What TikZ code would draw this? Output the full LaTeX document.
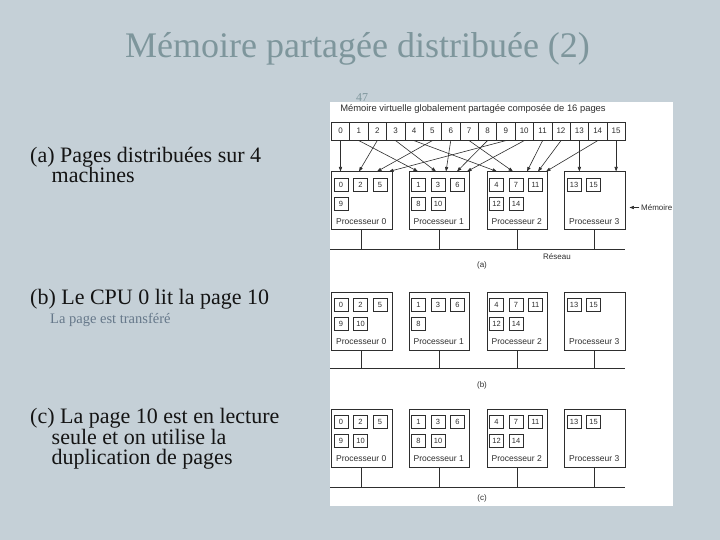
\documentclass[tikz,border=0pt]{standalone}
\usepackage{fontspec}
\setmainfont{Liberation Serif}
\newfontfamily\diagfont{Liberation Sans}
\usetikzlibrary{arrows.meta,calc}
\definecolor{bg}{HTML}{C5D0D7}
\definecolor{titlec}{HTML}{7E969C}
\definecolor{ink}{HTML}{2E2E2E}
\definecolor{bodyc}{HTML}{141414}
\definecolor{subc}{HTML}{66788A}
\newcommand\mkproc[6]{%
  \node[proc] (#1) at (#2,#3) {};
  \node[plabel] (#1-lab) at (#2+30.25,#3+50) {Processeur #4};
  \foreach \v [count=\k from 0] in {#5}
    \node[pg] (#1-u\k) at (#2+10+19.5*\k,#3+13) {\v};
  \def\rowtwo{#6}%
  \ifx\rowtwo\empty\else
  \foreach \v [count=\k from 0] in {#6}
    \node[pg] (#1-d\k) at (#2+10+19.5*\k,#3+32) {\v};
  \fi}
\begin{document}
\begin{tikzpicture}[x=1pt,y=-1pt,
  cell/.style={draw=ink, line width=0.6pt, minimum width=18.375pt, minimum height=18.3pt,
    inner sep=0pt, anchor=north west, font=\diagfont\fontsize{8}{9}\selectfont, text=ink},
  proc/.style={draw=ink, line width=0.6pt, minimum width=60.5pt, minimum height=58pt,
    inner sep=0pt, anchor=north west},
  pg/.style={draw=ink, line width=0.65pt, minimum width=14pt, minimum height=13pt,
    inner sep=0pt, font=\diagfont\fontsize{7.5}{8}\selectfont, text=ink},
  plabel/.style={font=\diagfont\fontsize{8.5}{9}\selectfont, text=ink, inner sep=0pt},
  small/.style={font=\diagfont\fontsize{8}{9}\selectfont, text=ink, inner sep=0pt},
  net/.style={draw=ink, line width=0.7pt},
  arr/.style={draw=ink, line width=0.6pt, -{Triangle[length=4.5pt,width=3.2pt]}},
  body/.style={font=\fontsize{22}{24}\selectfont, text=bodyc, anchor=base west, inner sep=0pt}
]
% background
\fill[bg] (0,0) rectangle (720,540);
% title
\node[font=\fontsize{36}{40}\selectfont, text=titlec, anchor=base, inner sep=0pt] (title) at (357.5,58) {Mémoire partagée distribuée (2)};
\node[font=\fontsize{12}{13}\selectfont, text=titlec, anchor=base, inner sep=0pt] (pnum) at (362,102) {47};
% left texts
\node[body] (ta1) at (30,162.5) {(a) Pages distribuées sur 4};
\node[body] (ta2) at (51.5,183) {machines};
\node[body] (tb1) at (30,304.5) {(b) Le CPU 0 lit la page 10};
\node[font=\fontsize{14.5}{16}\selectfont, text=subc, anchor=base west, inner sep=0pt] (tb2) at (50,323.5) {La page est transféré};
\node[body] (tc1) at (30,423) {(c) La page 10 est en lecture};
\node[body] (tc2) at (51.5,444) {seule et on utilise la};
\node[body] (tc3) at (51.5,464) {duplication de pages};
% white panel
\fill[white] (330,102.3) rectangle (673,506);
% header
\node[small, font=\diagfont\fontsize{9.4}{10}\selectfont, anchor=base] (hdr) at (473,112) {Mémoire virtuelle globalement partagée composée de 16 pages};
\foreach \i in {0,...,15}
  \node[cell] (c\i) at (331+18.375*\i,121.7) {\i};
% ---------- (a)
\mkproc{pa0}{331}{171.5}{0}{0,2,5}{9}
\mkproc{pa1}{408.5}{171.5}{1}{1,3,6}{8,10}
\mkproc{pa2}{486.5}{171.5}{2}{4,7,11}{12,14}
\mkproc{pa3}{564}{171.5}{3}{13,15}{}
\coordinate (naL) at (330,249);
\coordinate (naR) at (625,249);
\draw[net] (naL) -- (naR);
\foreach \p in {0,...,3} \draw[net] (pa\p.south) -- (pa\p.south |- naL);
\node[small] (reseau) at (557,256.5) {Réseau};
\node[small] (la) at (482,265) {(a)};
% memoire label
\node[small, anchor=east] (mem) at (672.5,207.5) {Mémoire};
\draw[arr] (mem.west) ++(-1.5,0) coordinate (memA) -- ([xshift=-10pt]memA);
% arrows
\draw[arr] (c0.south) -- (c0.south |- pa0.north);
\draw[arr] (c2.south) -- ([xshift=28pt]pa0.north west);
\draw[arr] (c5.south) -- ([xshift=46pt]pa0.north west);
\draw[arr] (c9.south) -- ([xshift=58pt]pa0.north west);
\draw[arr] (c1.south) -- ([xshift=9.5pt]pa1.north west);
\draw[arr] (c3.south) -- ([xshift=27.5pt]pa1.north west);
\draw[arr] (c6.south) -- ([xshift=37.5pt]pa1.north west);
\draw[arr] (c8.south) -- ([xshift=48.5pt]pa1.north west);
\draw[arr] (c10.south) -- ([xshift=58.5pt]pa1.north west);
\draw[arr] (c4.south) -- ([xshift=10.5pt]pa2.north west);
\draw[arr] (c7.south) -- ([xshift=26.5pt]pa2.north west);
\draw[arr] (c11.south) -- ([xshift=40.5pt]pa2.north west);
\draw[arr] (c12.south) -- ([xshift=51.5pt]pa2.north west);
\draw[arr] (c14.south) -- ([xshift=59.5pt]pa2.north west);
\draw[arr] (c13.south) -- (c13.south |- pa3.north);
\draw[arr] (c15.south) -- (c15.south |- pa3.north);
% ---------- (b)
\mkproc{pb0}{331}{291.5}{0}{0,2,5}{9,10}
\mkproc{pb1}{408.5}{291.5}{1}{1,3,6}{8}
\mkproc{pb2}{486.5}{291.5}{2}{4,7,11}{12,14}
\mkproc{pb3}{564}{291.5}{3}{13,15}{}
\coordinate (nbL) at (330,368.3);
\coordinate (nbR) at (625,368.3);
\draw[net] (nbL) -- (nbR);
\foreach \p in {0,...,3} \draw[net] (pb\p.south) -- (pb\p.south |- nbL);
\node[small] (lb) at (482,385) {(b)};
% ---------- (c)
\mkproc{pc0}{331}{408.5}{0}{0,2,5}{9,10}
\mkproc{pc1}{408.5}{408.5}{1}{1,3,6}{8,10}
\mkproc{pc2}{486.5}{408.5}{2}{4,7,11}{12,14}
\mkproc{pc3}{564}{408.5}{3}{13,15}{}
\coordinate (ncL) at (330,487);
\coordinate (ncR) at (625,487);
\draw[net] (ncL) -- (ncR);
\foreach \p in {0,...,3} \draw[net] (pc\p.south) -- (pc\p.south |- ncL);
\node[small] (lc) at (482,498.5) {(c)};
\end{tikzpicture}
\end{document}
